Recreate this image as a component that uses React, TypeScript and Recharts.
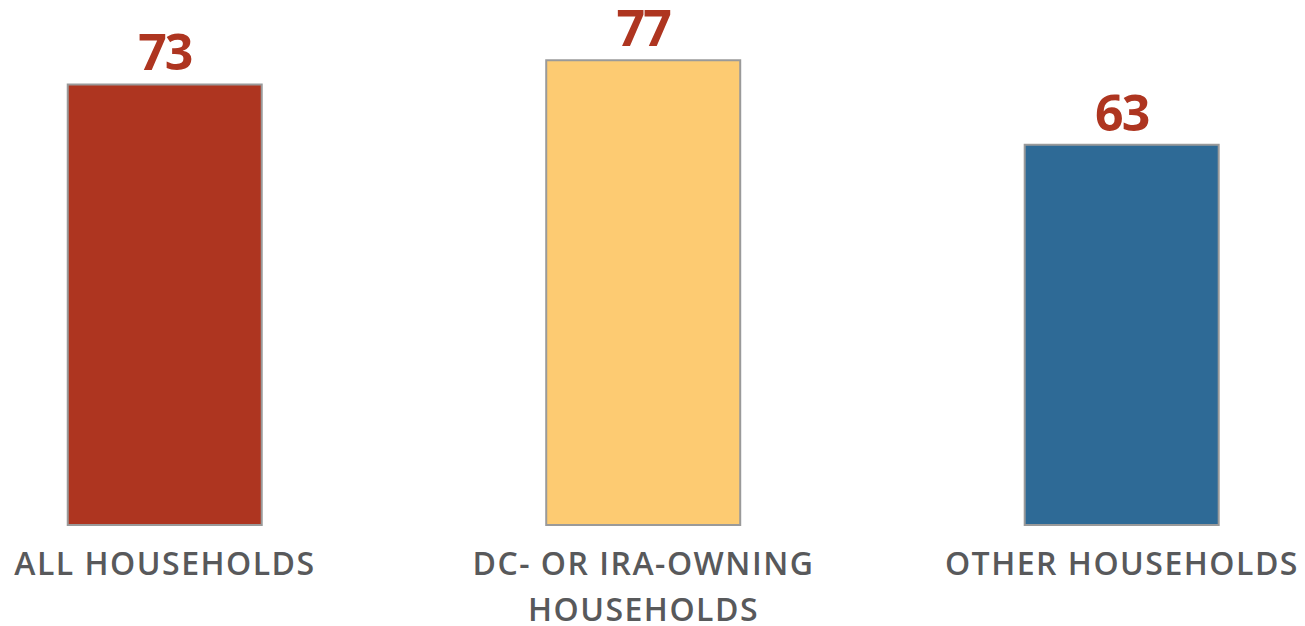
import React from 'react'
import { Bar, BarChart, Cell, LabelList, XAxis, YAxis } from 'recharts'

const categories = ['ALL HOUSEHOLDS', 'DC- OR IRA-OWNING\nHOUSEHOLDS', 'OTHER HOUSEHOLDS']
const values = [73, 77, 63]
const colors = ['#AE3520', '#FDCB72', '#2E6A96']

const data = categories.map((name, i) => ({ idx: i, name, value: values[i] }))

const CategoryTick = (props: any) => {
  const { x, y, payload } = props
  const lines = String(categories[payload.value] ?? '').split('\n')
  return (
    <text
      x={x}
      y={y}
      textAnchor="middle"
      fill="#58595B"
      fontFamily="'Open Sans', sans-serif"
      fontWeight={600}
      fontSize={32}
      letterSpacing={1.5}
    >
      {lines.map((line, i) => (
        <tspan key={i} x={x} dy={i === 0 ? 50 : 46}>
          {line}
        </tspan>
      ))}
    </text>
  )
}

export default function App() {
  return (
    <div style={{ position: 'absolute', left: 0, top: 0, width: 1305, height: 626, background: '#fff' }}>
      <BarChart width={1305} height={626} data={data} margin={{ top: 12, right: 0, bottom: 0, left: 0 }}>
        <XAxis
          type="number"
          dataKey="idx"
          domain={[-0.3448, 2.3826]}
          ticks={[0, 1, 2]}
          axisLine={false}
          tickLine={false}
          tickMargin={0}
          tickSize={0}
          interval={0}
          tick={<CategoryTick />}
          height={101}
        />
        <YAxis hide domain={[0, 85]} />
        <Bar dataKey="value" barSize={194} stroke="#9A9A9A" strokeWidth={2} isAnimationActive={false}>
          {data.map((d, i) => (
            <Cell key={d.name} fill={colors[i]} />
          ))}
          <LabelList
            dataKey="value"
            position="top"
            offset={14}
            fill="#AE3520"
            fontFamily="'Open Sans', sans-serif"
            fontWeight={700}
            fontSize={50}
            letterSpacing={-2}
          />
        </Bar>
      </BarChart>
    </div>
  )
}
